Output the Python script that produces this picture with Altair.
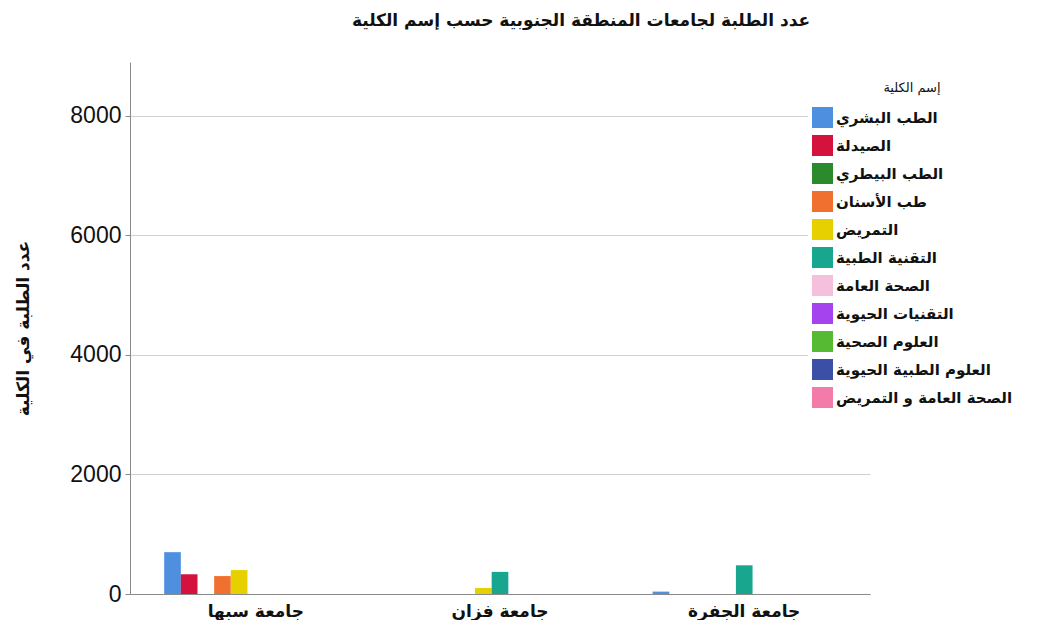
import altair as alt
import pandas as pd

universities = ["جامعة سبها", "جامعة فزان", "جامعة الجفرة"]
faculties = [
    "الطب البشري", "الصيدلة", "الطب البيطري", "طب الأسنان", "التمريض",
    "التقنية الطبية", "الصحة العامة", "التقنيات الحيوية", "العلوم الصحية",
    "العلوم الطبية الحيوية", "الصحة العامة و التمريض",
]
colors = ["#4f8fe0", "#d3123d", "#2b8a2b", "#f0712f", "#e6d000", "#18a68f",
          "#f4c0dc", "#a543ee", "#56ba33", "#3b4fa6", "#f27ba9"]
sebha = [700, 330, 0, 300, 400, 0, 0, 0, 0, 0, 0]
fezzan = [0, 0, 0, 0, 100, 370, 0, 0, 0, 0, 0]
jufra = [40, 0, 0, 0, 0, 480, 0, 0, 0, 0, 0]
y_ticks = [0, 2000, 4000, 6000, 8000]

rows = []
for uni, vals in zip(universities, [sebha, fezzan, jufra]):
    for fac, v in zip(faculties, vals):
        rows.append({"university": uni, "faculty": fac, "students": v})
df = pd.DataFrame(rows)

AR = "DejaVu Sans"

chart = alt.Chart(df).mark_bar().encode(
    x=alt.X(
        "university:N", sort=universities,
        scale=alt.Scale(domain=universities, paddingInner=0.25, paddingOuter=0.14),
        axis=alt.Axis(title=None, labelAngle=0, labelFontSize=17, labelFont=AR,
                      labelFontWeight="bold",
                      labelColor="#111", domainColor="#8a8a8a", domainWidth=1,
                      ticks=False, labelPadding=9),
    ),
    xOffset=alt.XOffset("faculty:N", sort=faculties,
                        scale=alt.Scale(domain=faculties, paddingInner=0, paddingOuter=0)),
    y=alt.Y(
        "students:Q",
        scale=alt.Scale(domain=[0, 8900], nice=False),
        axis=alt.Axis(values=y_ticks, format="d", title="عدد الطلبة في الكلية",
                      titleFont=AR, titleFontSize=17, titleFontWeight="bold",
                      titleColor="#111", titleX=-98, labelFontSize=23,
                      labelFont="Liberation Sans", labelColor="#111",
                      gridColor="#cfcfcf", gridWidth=1,
                      domainColor="#8a8a8a", tickColor="#8a8a8a", tickSize=5,
                      labelPadding=4),
    ),
    color=alt.Color(
        "faculty:N",
        scale=alt.Scale(domain=faculties, range=colors),
        legend=alt.Legend(
            orient="none", legendX=678, legendY=16, title="إسم الكلية",
            titleFont=AR, titleFontSize=13, titleFontWeight="normal",
            titleColor="#111", titleAnchor="middle", titlePadding=12,
            symbolType="square", symbolSize=441, symbolStrokeWidth=0,
            symbolOpacity=1, labelFont=AR, labelFontSize=15,
            labelFontWeight="bold", labelColor="#111",
            labelOffset=3, rowPadding=7, fillColor="white", padding=4,
            labelLimit=300,
        ),
    ),
).properties(
    width=740,
    height=532,
    autosize=alt.AutoSizeParams(type="none"),
    padding={"left": 122, "top": 54, "right": 165, "bottom": 26},
    title=alt.TitleParams(
        text="عدد الطلبة  لجامعات المنطقة الجنوبية حسب إسم الكلية",
        font=AR, fontSize=17, fontWeight="bold", color="#111",
        anchor="middle", dx=81, offset=32,
    ),
).configure_view(stroke=None)

chart.save("out.html", embed_options={"renderer": "svg", "actions": False})
